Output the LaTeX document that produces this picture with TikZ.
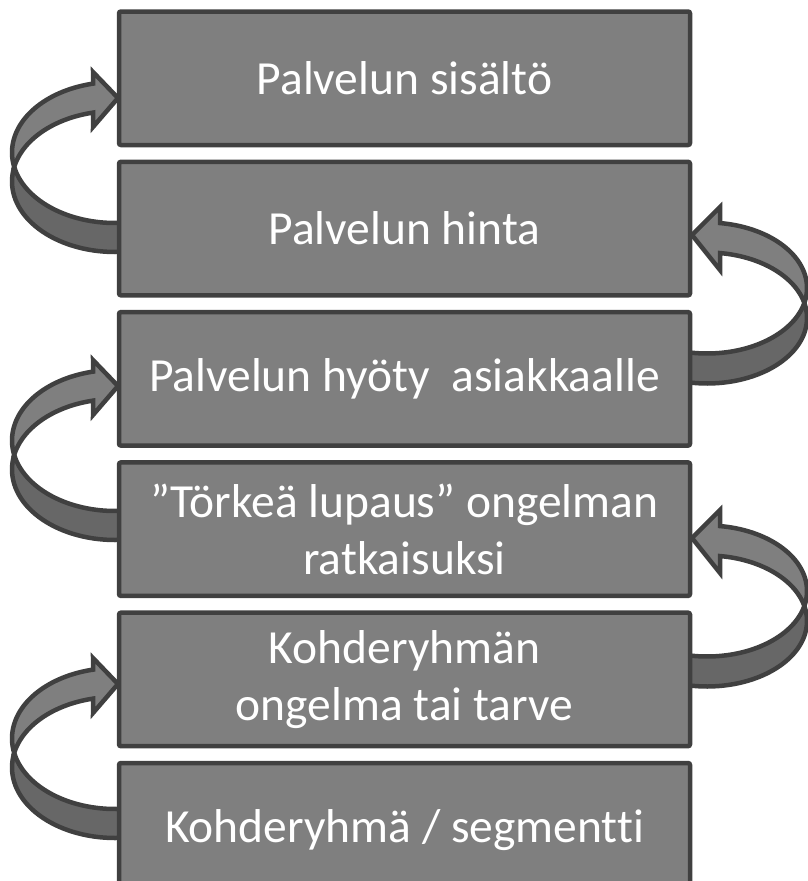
\documentclass[tikz,border=0pt]{standalone}
\usepackage{fontspec}
\setmainfont[Ligatures={NoCommon}]{Carlito}
\definecolor{boxfill}{HTML}{7F7F7F}
\definecolor{edgecol}{HTML}{404040}
\definecolor{backfill}{HTML}{676767}
\tikzset{
  box/.style={draw=edgecol, fill=boxfill, line width=4.5pt, rounded corners=2pt,
    minimum width=571pt, minimum height=133.5pt, inner sep=0pt, text=white,
    align=center, font=\fontsize{47.5}{57}\selectfont},
  frontlobe/.style={draw=edgecol, fill=boxfill, line width=4.5pt, line join=miter},
  backlobe/.style={draw=edgecol, fill=backfill, line width=4.5pt, line join=round},
}
\newcommand\lcurve[1]{%
\begin{scope}[shift={(0,#1)}]
 \filldraw[backlobe] plot[domain=168.13:75,samples=40] ({115+103*cos(\x)},{152.5+70.5*sin(\x)})
   -- plot[domain=75:191.87,samples=40] ({115+103*cos(\x)},{181.5+70.5*sin(\x)}) -- cycle;
 \filldraw[frontlobe] plot[domain=257.67:168.13,samples=40] ({115+103*cos(\x)},{152.5+70.5*sin(\x)})
   -- plot[domain=191.87:257.67,samples=40] ({115+103*cos(\x)},{181.5+70.5*sin(\x)})
   -- (93,127) -- (118,98) -- (93,72) -- cycle;
\end{scope}}
\newcommand\rcurve[1]{%
\begin{scope}[shift={(0,#1)}]
 \filldraw[backlobe] plot[domain=13.24:105,samples=40] ({707+100*cos(\x)},{288+65.5*sin(\x)})
   -- plot[domain=105:-13.24,samples=40] ({707+100*cos(\x)},{318+65.5*sin(\x)}) -- cycle;
 \filldraw[frontlobe] plot[domain=277.47:373.24,samples=40] ({707+100*cos(\x)},{288+65.5*sin(\x)})
   -- plot[domain=346.76:277.47,samples=40] ({707+100*cos(\x)},{318+65.5*sin(\x)})
   -- (720,270) -- (692,235) -- (720,207) -- cycle;
\end{scope}}
\begin{document}
\begin{tikzpicture}[x=1pt,y=-1pt]
\useasboundingbox (0,0) rectangle (808,881);
\lcurve{0}
\lcurve{288}
\lcurve{586}
\rcurve{0}
\rcurve{303}
\node[box] (b1) at (404.5,78.25) {Palvelun sisältö};
\node[box] (b2) at (404.5,228.55) {Palvelun hinta};
\node[box] (b3) at (404.5,378.85) {Palvelun hyöty~ asiakkaalle};
\node[box] (b4) at (404.5,529.15) {”Törkeä lupaus” ongelman\\ratkaisuksi};
\node[box] (b5) at (404.5,679.45) {Kohderyhmän\\ongelma tai tarve};
\node[box] (b6) at (404.5,829.75) {Kohderyhmä / segmentti};
\end{tikzpicture}
\end{document}
